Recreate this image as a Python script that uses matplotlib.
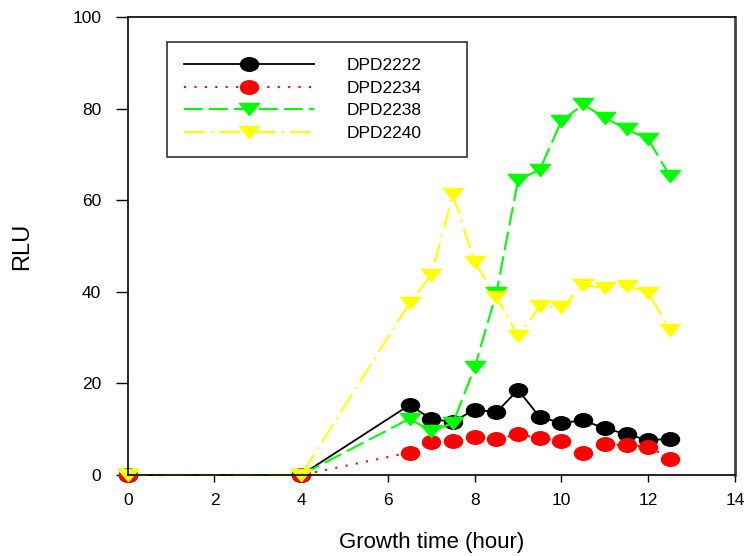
import numpy as np
import matplotlib
matplotlib.use("Agg")
import matplotlib.pyplot as plt
from matplotlib.path import Path
from matplotlib.transforms import Affine2D

plt.rcParams['font.family'] = ['Liberation Sans', 'DejaVu Sans']

# sampling times (hour)
hours = [0, 4, 6.5, 7, 7.5, 8, 8.5, 9, 9.5, 10, 10.5, 11, 11.5, 12, 12.5]

dpd2222 = [0, 0, 15.3, 12.2, 11.6, 14.3, 13.7, 18.6, 12.6, 11.4, 11.9, 10.2, 8.9, 7.6, 7.9]
dpd2234 = [0, 0, 4.9, 7.1, 7.4, 8.4, 7.8, 8.9, 8.0, 7.5, 4.9, 6.8, 6.5, 6.2, 3.6]
dpd2238 = [0, 0, 12.3, 9.5, 11.4, 23.5, 39.8, 64.4, 66.7, 77.3, 80.9, 78.0, 75.5, 73.3, 65.3]
dpd2240 = [0, 0, 37.6, 43.7, 61.3, 46.4, 38.9, 30.3, 36.8, 36.6, 41.5, 40.8, 41.3, 39.8, 31.7]

labels = ['DPD2222', 'DPD2234', 'DPD2238', 'DPD2240']

# slightly flattened circle and a wide down-triangle
ellipse = Path.unit_circle().transformed(Affine2D().scale(1.0, 0.75))
tri_down = Path([(-1, 0.6), (1, 0.6), (0, -0.6), (-1, 0.6)],
                [Path.MOVETO, Path.LINETO, Path.LINETO, Path.CLOSEPOLY])

fig = plt.figure(figsize=(7.49, 5.56), dpi=100)
ax = fig.add_axes([0.1705, 0.1457, 0.8108, 0.8237])

ax.plot(hours, dpd2222, color='black', lw=1.3, ls='-',
        marker=ellipse, ms=13, mec='black', mfc='black',
        label=labels[0], clip_on=False)
ax.plot(hours, dpd2234, color='red', lw=1.5, dashes=(1, 4),
        marker=ellipse, ms=13, mec='red', mfc='red',
        label=labels[1], clip_on=False)
ax.plot(hours, dpd2238, color='#00ff00', lw=1.5, dashes=(9, 3),
        marker=tri_down, ms=14.5, mec='#00ff00', mfc='#00ff00',
        label=labels[2], clip_on=False)
ax.plot(hours, dpd2240, color='#ffff00', lw=1.5, dashes=(10, 3, 1, 3),
        marker=tri_down, ms=14.5, mec='#ffff00', mfc='#ffff00',
        label=labels[3], clip_on=False)

ax.set_xlim(0, 14)
ax.set_ylim(0, 100)
ax.set_xticks(np.arange(0, 15, 2))
ax.set_yticks(np.arange(0, 101, 20))
ax.tick_params(axis='y', direction='out', length=9, width=1, pad=10, labelsize=12.5)
ax.tick_params(axis='x', direction='out', length=5, width=1, pad=8, labelsize=12.5)

for side in ['left', 'bottom', 'top']:
    ax.spines[side].set_color('black')
    ax.spines[side].set_linewidth(1.2)
ax.spines['right'].set_color('#444444')
ax.spines['right'].set_linewidth(2)

ax.set_xlabel('Growth time (hour)', fontsize=16, labelpad=17)
ax.set_ylabel('RLU', fontsize=17, labelpad=28)

# legend box spans a fixed width in figure coordinates
leg_h = 0.205
leg = fig.legend(loc='upper left', bbox_to_anchor=(0.2234, 0.925 - leg_h, 0.4006, leg_h),
                 bbox_transform=fig.transFigure, borderaxespad=0, mode='expand',
                 numpoints=1, fontsize=12.5, handlelength=7.5,
                 handletextpad=1.9, labelspacing=0.42, borderpad=0.95,
                 fancybox=False, framealpha=1)
leg.get_frame().set_edgecolor('#333333')
leg.get_frame().set_linewidth(1.2)

fig.savefig('out.png', dpi=100)
